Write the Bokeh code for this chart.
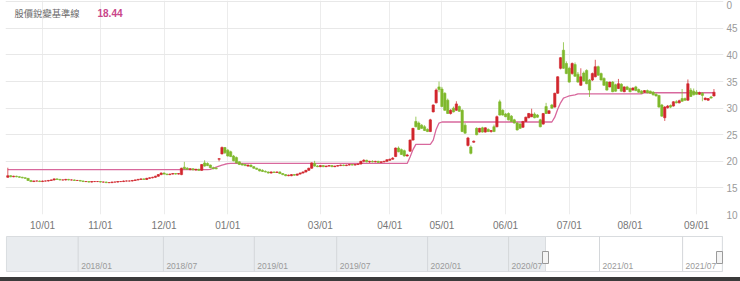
from bokeh.plotting import figure
from bokeh.models import Range1d, FixedTicker, Label, ColumnDataSource, Div
from bokeh.layouts import column
from bokeh.embed import file_html
from bokeh.resources import INLINE
from bokeh.core.properties import value

# ---------------- data (trading-day index 0..244, Sep 2020 - Sep 2021) ----------------
opens = [
    17.0, 17.3, 17.1, 17.2, 17.1, 17.0, 16.9, 16.8, 16.4, 16.2,
    16.3, 16.3, 16.2, 16.3, 16.3, 16.4, 16.5, 16.7, 16.6, 16.5,
    16.5, 16.6, 16.5, 16.5, 16.4, 16.4, 16.3, 16.2, 16.2, 16.1,
    16.2, 16.2, 16.2, 16.1, 16.1, 16.0, 16.0, 16.1, 16.1, 16.2,
    16.2, 16.3, 16.3, 16.3, 16.4, 16.5, 16.6, 16.7, 16.6, 16.8,
    16.9, 17.0, 17.2, 17.5, 17.8, 17.6, 17.5, 17.6, 17.7, 17.6,
    17.5, 18.9, 18.7, 18.5, 18.6, 18.4, 18.5, 18.3, 19.7, 19.6,
    19.3, 18.8, 18.7, 20.4, 21.4, 22.6, 22.1, 21.8, 21.0, 20.7,
    19.9, 19.5, 19.4, 19.1, 19.3, 19.0, 18.7, 18.5, 18.3, 18.1,
    18.0, 17.8, 18.0, 17.9, 18.0, 17.7, 17.5, 17.3, 17.3, 17.5,
    17.4, 17.6, 17.8, 18.0, 18.3, 18.7, 19.6, 19.1, 19.0, 19.2,
    19.0, 19.1, 19.2, 19.0, 19.1, 19.2, 19.3, 19.2, 19.3, 19.4,
    19.3, 19.4, 19.5, 20.0, 20.2, 19.9, 20.0, 19.9, 20.0, 19.8,
    19.9, 20.0, 20.2, 20.4, 20.9, 22.5, 22.2, 22.0, 21.0, 21.9,
    24.0, 27.5, 27.2, 26.8, 26.5, 26.0, 25.6, 29.3, 31.0, 34.0,
    33.6, 32.8, 31.5, 29.0, 30.0, 29.6, 30.3, 29.6, 26.8, 23.0,
    22.7, 23.6, 26.2, 25.5, 26.3, 25.5, 26.0, 25.6, 26.5, 26.5,
    31.2, 29.6, 28.9, 29.0, 28.5, 27.8, 27.2, 27.0, 26.4, 27.5,
    28.2, 28.4, 28.9, 28.7, 27.8, 27.0, 30.3, 29.0, 30.6, 30.2,
    32.8, 37.5, 40.9, 38.4, 37.5, 36.5, 38.2, 36.4, 34.3, 36.6,
    37.1, 35.3, 35.3, 35.9, 37.8, 36.5, 35.6, 34.9, 34.0, 34.9,
    34.4, 33.7, 34.5, 33.1, 34.0, 33.7, 33.4, 34.0, 33.5, 33.2,
    33.0, 33.3, 33.2, 33.0, 32.6, 32.4, 30.6, 28.2, 30.1, 30.5,
    30.4, 31.2, 31.0, 31.8, 31.8, 31.5, 33.4, 33.2, 33.0, 32.6,
    32.8, 31.6, 31.5, 32.1, 32.3,
]
highs = [
    18.8, 17.4, 17.3, 17.3, 17.2, 17.1, 17.0, 16.8, 16.5, 16.4,
    16.4, 16.4, 16.4, 16.4, 16.5, 16.6, 16.8, 16.8, 16.7, 16.6,
    16.7, 16.7, 16.6, 16.6, 16.5, 16.5, 16.4, 16.3, 16.3, 16.3,
    16.3, 16.3, 16.3, 16.2, 16.2, 16.1, 16.2, 16.2, 16.3, 16.3,
    16.4, 16.4, 16.4, 16.5, 16.6, 16.7, 16.8, 16.8, 16.9, 17.0,
    17.1, 17.3, 17.6, 17.9, 17.9, 17.7, 17.7, 17.8, 17.8, 17.8,
    18.8, 19.9, 18.9, 18.7, 18.7, 18.6, 18.6, 19.5, 20.2, 19.8,
    19.4, 19.0, 18.9, 20.6, 22.8, 22.7, 22.3, 22.0, 21.2, 20.9,
    20.0, 19.7, 19.5, 19.4, 19.4, 19.1, 18.8, 18.6, 18.5, 18.3,
    18.1, 18.1, 18.1, 18.1, 18.1, 17.8, 17.6, 17.5, 17.6, 17.6,
    17.7, 17.9, 18.1, 18.4, 18.8, 19.8, 20.1, 19.3, 19.3, 19.3,
    19.2, 19.3, 19.3, 19.2, 19.3, 19.4, 19.4, 19.4, 19.5, 19.5,
    19.5, 19.6, 20.1, 20.4, 20.3, 20.1, 20.2, 20.1, 20.1, 20.0,
    20.1, 20.4, 20.5, 20.8, 22.6, 22.8, 22.4, 22.2, 21.4, 24.1,
    26.3, 28.4, 27.5, 27.0, 26.8, 26.2, 28.0, 30.7, 33.7, 35.0,
    34.0, 33.0, 31.8, 29.8, 30.3, 31.3, 30.5, 29.8, 27.2, 24.6,
    23.0, 23.9, 26.4, 26.3, 26.5, 26.4, 26.2, 25.9, 26.9, 28.6,
    31.6, 29.8, 29.1, 29.2, 28.7, 28.0, 27.4, 27.2, 27.6, 28.4,
    29.1, 29.9, 29.2, 28.9, 28.0, 29.1, 31.0, 29.6, 30.8, 32.9,
    36.0, 39.6, 42.4, 38.8, 37.8, 38.6, 38.6, 36.8, 37.5, 36.9,
    37.3, 35.5, 36.7, 39.1, 38.0, 36.7, 35.8, 35.1, 35.0, 35.1,
    34.6, 35.5, 34.7, 34.1, 34.2, 33.9, 33.9, 34.2, 33.7, 33.4,
    33.4, 33.5, 33.3, 33.2, 32.8, 32.5, 30.8, 30.4, 30.6, 30.7,
    31.3, 31.5, 31.6, 33.6, 32.0, 35.4, 33.8, 33.7, 33.4, 33.1,
    33.0, 32.0, 31.9, 32.3, 33.6,
]
lows = [
    16.9, 17.0, 17.0, 17.0, 16.9, 16.8, 16.7, 16.3, 16.1, 16.1,
    16.2, 16.1, 16.1, 16.2, 16.2, 16.3, 16.4, 16.5, 16.4, 16.4,
    16.4, 16.4, 16.4, 16.3, 16.3, 16.2, 16.1, 16.1, 16.0, 16.0,
    16.1, 16.1, 16.0, 16.0, 15.9, 15.9, 15.9, 16.0, 16.0, 16.1,
    16.1, 16.2, 16.2, 16.2, 16.3, 16.4, 16.5, 16.5, 16.5, 16.7,
    16.8, 16.9, 17.1, 17.4, 17.5, 17.4, 17.4, 17.5, 17.5, 17.5,
    17.4, 18.5, 18.4, 18.3, 18.3, 18.2, 18.2, 18.2, 19.0, 19.1,
    18.7, 18.5, 18.5, 20.0, 21.3, 21.4, 20.9, 20.8, 20.0, 19.6,
    19.3, 19.2, 19.1, 19.0, 18.9, 18.6, 18.4, 18.1, 18.0, 17.9,
    17.7, 17.7, 17.8, 17.8, 17.6, 17.4, 17.2, 17.2, 17.2, 17.3,
    17.3, 17.5, 17.7, 17.9, 18.2, 18.6, 19.0, 18.9, 18.9, 18.9,
    18.9, 19.0, 18.9, 18.9, 19.0, 19.1, 19.1, 19.1, 19.2, 19.2,
    19.2, 19.3, 19.4, 19.8, 19.8, 19.7, 19.8, 19.8, 19.7, 19.7,
    19.8, 19.9, 20.1, 20.3, 20.8, 21.7, 21.2, 20.9, 20.9, 21.8,
    23.9, 26.4, 25.9, 26.1, 25.7, 25.5, 25.5, 29.2, 30.9, 33.0,
    30.2, 29.5, 28.9, 28.8, 29.2, 29.5, 29.3, 25.5, 25.2, 22.8,
    21.3, 23.5, 24.9, 25.4, 25.4, 25.4, 25.5, 25.4, 25.5, 26.4,
    28.6, 28.6, 28.3, 27.7, 27.4, 27.1, 25.8, 26.1, 26.3, 27.4,
    28.1, 28.3, 28.1, 28.2, 26.4, 26.9, 28.9, 28.9, 29.9, 30.1,
    32.7, 37.3, 37.4, 36.4, 34.8, 36.3, 35.9, 34.8, 34.2, 35.0,
    34.5, 32.1, 35.1, 35.8, 36.1, 35.2, 34.2, 33.3, 33.9, 33.0,
    33.1, 33.6, 33.1, 33.0, 33.4, 33.0, 33.3, 33.2, 32.9, 32.7,
    32.9, 32.8, 32.7, 32.4, 32.2, 30.1, 28.4, 27.6, 29.9, 30.0,
    30.3, 30.9, 30.9, 31.2, 31.4, 31.4, 32.1, 32.4, 32.5, 32.5,
    31.3, 31.5, 31.4, 31.8, 32.2,
]
closes = [
    17.3, 17.1, 17.2, 17.1, 17.0, 16.9, 16.8, 16.4, 16.2, 16.3,
    16.3, 16.2, 16.3, 16.3, 16.4, 16.5, 16.7, 16.6, 16.5, 16.5,
    16.6, 16.5, 16.5, 16.4, 16.4, 16.3, 16.2, 16.2, 16.1, 16.2,
    16.2, 16.2, 16.1, 16.1, 16.0, 16.0, 16.1, 16.1, 16.2, 16.2,
    16.3, 16.3, 16.3, 16.4, 16.5, 16.6, 16.7, 16.6, 16.8, 16.9,
    17.0, 17.2, 17.5, 17.8, 17.6, 17.5, 17.6, 17.7, 17.6, 17.7,
    18.7, 18.6, 18.5, 18.6, 18.4, 18.5, 18.3, 19.4, 19.1, 19.2,
    18.8, 18.6, 18.6, 20.5, 22.6, 21.6, 21.0, 20.9, 20.1, 19.7,
    19.4, 19.3, 19.2, 19.3, 19.0, 18.7, 18.5, 18.2, 18.1, 18.0,
    17.8, 18.0, 17.9, 18.0, 17.7, 17.5, 17.3, 17.4, 17.5, 17.4,
    17.6, 17.8, 18.0, 18.3, 18.7, 19.7, 19.1, 19.0, 19.2, 19.0,
    19.1, 19.2, 19.0, 19.1, 19.2, 19.3, 19.2, 19.3, 19.4, 19.3,
    19.4, 19.5, 20.0, 20.2, 19.9, 20.0, 19.9, 20.0, 19.8, 19.9,
    20.0, 20.3, 20.4, 20.6, 22.5, 21.8, 21.3, 21.0, 21.2, 24.0,
    26.2, 26.5, 26.0, 26.2, 25.8, 25.6, 27.8, 30.6, 33.4, 33.5,
    30.3, 29.6, 29.0, 29.6, 29.3, 30.8, 29.4, 25.6, 25.3, 24.4,
    21.5, 23.8, 25.0, 26.2, 25.5, 26.3, 25.6, 25.8, 25.6, 28.4,
    28.7, 28.7, 28.4, 27.8, 27.5, 27.2, 25.9, 26.2, 27.5, 28.3,
    29.0, 28.9, 28.2, 28.3, 26.5, 29.0, 29.0, 29.5, 30.0, 32.8,
    35.9, 39.5, 37.5, 36.5, 34.9, 38.4, 36.0, 34.9, 35.9, 35.1,
    34.6, 33.4, 36.5, 37.8, 36.2, 35.3, 34.3, 33.4, 34.9, 33.1,
    33.2, 34.6, 33.2, 34.0, 33.5, 33.1, 33.8, 33.3, 33.0, 32.8,
    33.3, 32.9, 32.8, 32.5, 32.3, 30.2, 28.5, 30.2, 30.4, 30.2,
    31.2, 31.0, 31.4, 31.3, 31.5, 34.6, 32.2, 32.5, 32.6, 32.9,
    32.4, 31.9, 31.8, 31.9, 33.0,
]
# pink baseline (股價銳變基準線)
baseline = [
    18.44, 18.44, 18.44, 18.44, 18.44, 18.44, 18.44, 18.44, 18.44, 18.44,
    18.44, 18.44, 18.44, 18.44, 18.44, 18.44, 18.44, 18.44, 18.44, 18.44,
    18.44, 18.44, 18.44, 18.44, 18.44, 18.44, 18.44, 18.44, 18.44, 18.44,
    18.44, 18.44, 18.44, 18.44, 18.44, 18.44, 18.44, 18.44, 18.44, 18.44,
    18.44, 18.44, 18.44, 18.44, 18.44, 18.44, 18.44, 18.44, 18.44, 18.44,
    18.44, 18.44, 18.44, 18.44, 18.44, 18.44, 18.44, 18.44, 18.44, 18.44,
    18.44, 18.44, 18.44, 18.44, 18.44, 18.44, 18.44, 18.44, 18.44, 18.44,
    18.5, 18.7, 18.9, 19.1, 19.3, 19.45, 19.55, 19.6, 19.6, 19.6,
    19.6, 19.6, 19.6, 19.6, 19.6, 19.6, 19.6, 19.6, 19.6, 19.6,
    19.6, 19.6, 19.6, 19.6, 19.6, 19.6, 19.6, 19.6, 19.6, 19.6,
    19.6, 19.6, 19.6, 19.6, 19.6, 19.6, 19.6, 19.6, 19.6, 19.6,
    19.6, 19.6, 19.6, 19.6, 19.6, 19.6, 19.6, 19.6, 19.6, 19.6,
    19.6, 19.6, 19.6, 19.6, 19.6, 19.6, 19.6, 19.6, 19.6, 19.6,
    19.6, 19.6, 19.6, 19.6, 19.6, 19.6, 19.6, 19.6, 19.6, 20.8,
    22.2, 23.2, 23.2, 23.2, 23.2, 23.2, 23.2, 24.0, 26.0, 27.2,
    27.4, 27.4, 27.4, 27.4, 27.4, 27.4, 27.4, 27.4, 27.4, 27.4,
    27.4, 27.4, 27.4, 27.4, 27.4, 27.4, 27.4, 27.4, 27.4, 27.4,
    27.4, 27.4, 27.4, 27.4, 27.4, 27.4, 27.4, 27.4, 27.4, 27.4,
    27.4, 27.4, 27.4, 27.4, 27.4, 27.4, 27.4, 27.4, 27.4, 28.3,
    29.8, 31.0, 31.9, 32.1, 32.3, 32.4, 32.5, 32.7, 32.7, 32.7,
    32.7, 32.7, 32.7, 32.7, 32.7, 32.7, 32.7, 32.7, 32.7, 32.7,
    32.7, 32.7, 32.7, 32.7, 32.7, 32.7, 32.7, 32.7, 32.7, 32.7,
    32.9, 32.9, 32.9, 32.9, 32.9, 32.9, 32.9, 32.9, 32.9, 32.9,
    32.9, 32.9, 32.9, 32.9, 32.9, 32.9, 32.9, 32.9, 32.9, 32.9,
    32.9, 32.9, 32.9, 32.9, 32.9,
]
month_tick_idx = [12, 32, 54, 76, 108, 132, 150, 172, 194, 215, 238]
month_tick_labels = ["10/01", "11/01", "12/01", "01/01", "03/01", "04/01",
                     "05/01", "06/01", "07/01", "08/01", "09/01"]
y_ticks = [10, 15, 20, 25, 30, 35, 40, 45, 50]
y_tick_labels = ["10", "15", "20", "25", "30", "35", "40", "45", "0"]
title_text = "股價銳變基準線"
title_value = "18.44"

# navigator (same trading-day index, extended back to 2017)
nav_tick_idx = [-658, -538, -410, -294, -166, -52, 76, 193]
nav_tick_labels = ["2018/01", "2018/07", "2019/01", "2019/07",
                   "2020/01", "2020/07", "2021/01", "2021/07"]
nav_first_idx = -759

RED = "#d1262d"
GREEN = "#7fb92c"
PINK = "#d8689d"
FONT = "Liberation Sans"

n = len(closes)
idx = list(range(n))
colors = [RED if c >= o else GREEN for o, c in zip(opens, closes)]
src = ColumnDataSource(dict(
    x=idx, o=opens, h=highs, l=lows, c=closes,
    top=[max(o, c) for o, c in zip(opens, closes)],
    bot=[min(o, c) for o, c in zip(opens, closes)],
    color=colors,
))

p = figure(width=740, height=233, x_range=Range1d(-0.8, 247.3),
           y_range=Range1d(10, 50.25), y_axis_location="right",
           output_backend="svg", toolbar_location=None,
           min_border_left=5, min_border_right=16, min_border_top=0, min_border_bottom=18)
p.outline_line_color = None
p.background_fill_color = "white"
p.border_fill_color = "white"

p.xgrid.ticker = FixedTicker(ticks=month_tick_idx)
p.ygrid.ticker = FixedTicker(ticks=y_ticks)
p.xgrid.grid_line_color = "#ececec"
p.ygrid.grid_line_color = "#e8e8e8"

p.xaxis.ticker = FixedTicker(ticks=month_tick_idx)
p.xaxis.major_label_overrides = {t: s for t, s in zip(month_tick_idx, month_tick_labels)}
p.yaxis.ticker = FixedTicker(ticks=y_ticks)
p.yaxis.major_label_overrides = {t: s for t, s in zip(y_ticks, y_tick_labels)}
for ax in (p.xaxis[0], p.yaxis[0]):
    ax.axis_line_color = None
    ax.major_tick_line_color = None
    ax.minor_tick_line_color = None
    ax.major_tick_out = 0
    ax.major_tick_in = 0
    ax.minor_tick_out = 0
    ax.minor_tick_in = 0
    ax.major_label_text_font = FONT
    ax.major_label_text_font_size = "10px"
p.xaxis.major_label_text_color = "#777777"
p.yaxis.major_label_text_color = "#9a9a9a"
p.xaxis.major_label_standoff = 5
p.yaxis.major_label_standoff = 3

p.line(idx, baseline, line_color=PINK, line_width=1.3)
p.segment(x0="x", y0="h", x1="x", y1="l", source=src, line_color="color", line_width=1, line_alpha=0.75)
p.vbar(x="x", top="top", bottom="bot", width=0.8, source=src, fill_color="color",
       line_color="color", line_width=0.6)

p.add_layout(Label(x=9, y=202, x_units="screen", y_units="screen", text=title_text,
                   text_font="Noto Sans CJK TC", text_font_size="9.3px", text_color="#6a6a6a",
                   text_baseline="middle"))
p.add_layout(Label(x=92, y=202, x_units="screen", y_units="screen", text=title_value,
                   text_font=FONT, text_font_size="10px", text_font_style="bold",
                   text_color="#c9468a", text_baseline="middle"))

# ---------------- navigator ----------------
# frame is aligned with the main frame (x = 5 .. 724 px); range chosen so the
# data window (index 0 .. n) sits at 545 .. 719 px
nav = figure(frame_width=719, frame_height=44, x_range=Range1d(-760.3, 252.0), y_range=Range1d(44, 0),
             output_backend="svg", toolbar_location=None, x_axis_type=None, y_axis_type=None,
             min_border_left=5, min_border_right=16, min_border_top=0, min_border_bottom=0)
nav.outline_line_color = None
nav.xgrid.visible = False
nav.ygrid.visible = False
nav.border_fill_color = "white"

nav.quad(left=[nav_first_idx], right=[n + 4], top=[3], bottom=[38],
         fill_color="#e9ecef", line_color="#d9dcdf", line_width=1)
nav.quad(left=[0], right=[n + 4], top=[3], bottom=[38],
         fill_color="white", line_color="#d9dcdf", line_width=1)
nav.segment(x0=nav_tick_idx, y0=[3] * len(nav_tick_idx), x1=nav_tick_idx, y1=[38] * len(nav_tick_idx),
            line_color="#d4d7da", line_width=1)
nav.text(x=nav_tick_idx, y=[32] * len(nav_tick_idx), text=nav_tick_labels, x_offset=3,
         text_font=value(FONT), text_font_size="8.5px", text_color="#9a9a9a",
         text_baseline="alphabetic", text_align="left")
nav.rect(x=[0, n], y=[24, 24], width=6, height=12, width_units="screen", height_units="screen",
         fill_color="#f4f4f4", line_color="#9a9a9a", line_width=1)

bar = Div(width=740, height=4, margin=0, styles={"background-color": "#3b3b3b"})

layout = column(p, nav, bar, spacing=0)
open("out.html", "w").write(file_html(layout, INLINE))
